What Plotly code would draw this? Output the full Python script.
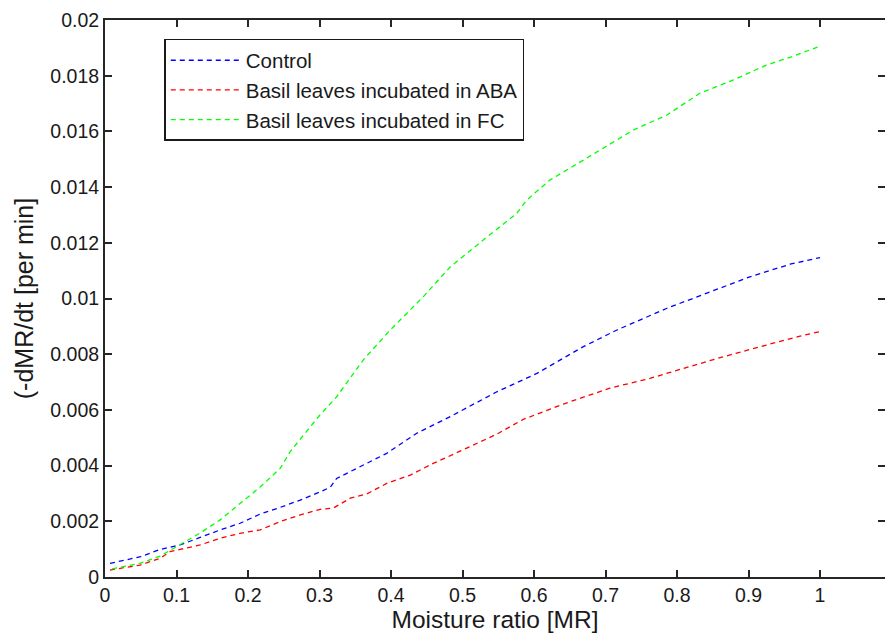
import plotly.graph_objects as go

# Drying-rate curves: -dMR/dt against moisture ratio
control_x = [0.007, 0.05, 0.077, 0.105, 0.133, 0.161, 0.189, 0.217, 0.245, 0.273,
             0.301, 0.315, 0.324, 0.357, 0.38, 0.394, 0.436, 0.483, 0.548, 0.604,
             0.669, 0.716, 0.786, 0.837, 0.902, 0.958, 1.0]
control_y = [0.00049, 0.00073, 0.00099, 0.00115, 0.00142, 0.00169, 0.00193, 0.00226,
             0.0025, 0.00276, 0.00306, 0.00322, 0.00354, 0.00396, 0.00426, 0.00444,
             0.00516, 0.00576, 0.00665, 0.00731, 0.00827, 0.00887, 0.00965, 0.01015,
             0.01078, 0.01123, 0.01147]

aba_x = [0.007, 0.049, 0.077, 0.091, 0.105, 0.133, 0.161, 0.189, 0.217, 0.245,
         0.273, 0.301, 0.319, 0.343, 0.366, 0.394, 0.427, 0.459, 0.48, 0.548,
         0.585, 0.641, 0.706, 0.762, 0.809, 0.865, 0.925, 0.972, 1.0]
aba_y = [0.00025, 0.00043, 0.00067, 0.00091, 0.00099, 0.00115, 0.00139, 0.00157,
         0.00169, 0.00199, 0.00223, 0.00243, 0.00247, 0.00283, 0.00298, 0.00336,
         0.00366, 0.00408, 0.00432, 0.00513, 0.00566, 0.00621, 0.00678, 0.00713,
         0.00749, 0.00791, 0.00833, 0.00865, 0.00881]

fc_x = [0.01, 0.049, 0.077, 0.105, 0.133, 0.161, 0.189, 0.217, 0.245, 0.259,
        0.3, 0.324, 0.361, 0.399, 0.445, 0.483, 0.529, 0.576, 0.59, 0.622,
        0.669, 0.692, 0.739, 0.786, 0.832, 0.879, 0.925, 0.958, 0.998]
fc_y = [0.00029, 0.00049, 0.00075, 0.00115, 0.00158, 0.00205, 0.00265, 0.00323,
        0.0039, 0.0045, 0.0058, 0.00647, 0.00779, 0.00887, 0.01006, 0.01114,
        0.0121, 0.01306, 0.01354, 0.01425, 0.01497, 0.01533, 0.01605, 0.01659,
        0.01737, 0.01785, 0.01838, 0.01866, 0.01904]

series_names = ["Control", "Basil leaves incubated in ABA", "Basil leaves incubated in FC"]
series_colors = ["#0000ff", "#ff0000", "#00ff00"]

x_ticks = [0, 0.1, 0.2, 0.3, 0.4, 0.5, 0.6, 0.7, 0.8, 0.9, 1.0]
x_ticklabels = ["0", "0.1", "0.2", "0.3", "0.4", "0.5", "0.6", "0.7", "0.8", "0.9", "1"]
y_ticks = [0, 0.002, 0.004, 0.006, 0.008, 0.01, 0.012, 0.014, 0.016, 0.018, 0.02]
y_ticklabels = ["0", "0.002", "0.004", "0.006", "0.008", "0.01", "0.012",
                "0.014", "0.016", "0.018", "0.02"]

FONT = "Liberation Sans, Arial, sans-serif"
INK = "#1a1a1a"
AXIS = "#262626"

fig = go.Figure()
for xs, ys, name, color in zip([control_x, aba_x, fc_x], [control_y, aba_y, fc_y],
                               series_names, series_colors):
    fig.add_trace(go.Scatter(
        x=xs, y=ys, mode="lines", name=name,
        line=dict(color=color, width=1.3, dash="5px,4px"),
    ))

# empty trace carrying the right-hand tick marks (no spine on that side)
fig.add_trace(go.Scatter(x=[None], y=[None], yaxis="y2", showlegend=False,
                         hoverinfo="skip"))

tick_style = dict(ticks="inside", ticklen=7, tickwidth=1.5, tickcolor=AXIS)

fig.update_layout(
    width=885, height=639,
    margin=dict(l=105, r=0, t=20, b=62),
    paper_bgcolor="white", plot_bgcolor="white",
    font=dict(family=FONT, color=INK),
    showlegend=True,
    legend=dict(
        x=0.076, y=0.966, xanchor="left", yanchor="top",
        bgcolor="white", bordercolor=INK, borderwidth=1.5,
        font=dict(family=FONT, size=20.5, color=INK),
        itemwidth=70, tracegroupgap=0,
    ),
    xaxis=dict(
        range=[0, 1.0909], tickvals=x_ticks, ticktext=x_ticklabels,
        showgrid=False, zeroline=False, showline=True, linecolor=AXIS, linewidth=2,
        mirror="ticks", tickfont=dict(family=FONT, size=19.5, color=INK),
        title=dict(text="Moisture ratio [MR]", font=dict(family=FONT, size=24.5),
                   standoff=3),
        **tick_style,
    ),
    yaxis=dict(
        range=[0, 0.02], tickvals=y_ticks, ticktext=y_ticklabels,
        showgrid=False, zeroline=False, showline=True, linecolor=AXIS, linewidth=2,
        tickfont=dict(family=FONT, size=19.5, color=INK),
        title=dict(text="(-dMR/dt [per min]", font=dict(family=FONT, size=25),
                   standoff=10),
        **tick_style,
    ),
    yaxis2=dict(
        overlaying="y", side="right", range=[0, 0.02], tickvals=y_ticks,
        showticklabels=False, showgrid=False, zeroline=False, showline=False,
        **tick_style,
    ),
)

fig.write_html("out.html")
